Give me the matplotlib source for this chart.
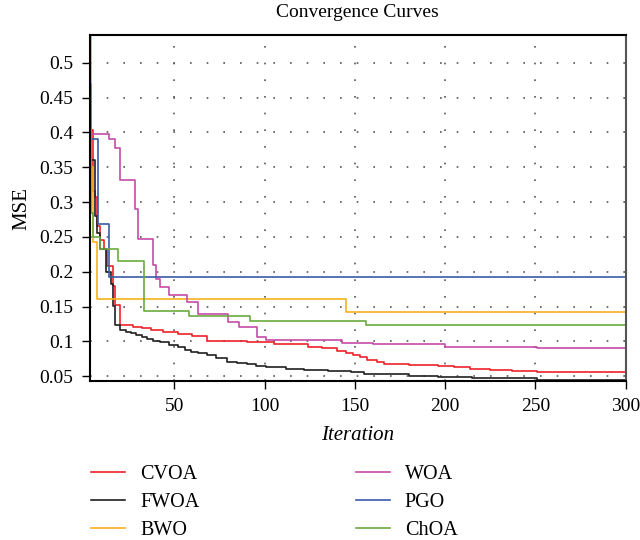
import matplotlib
matplotlib.use("Agg")
import matplotlib.pyplot as plt

plt.rcParams['font.family'] = ['Liberation Serif', 'DejaVu Serif']

# breakpoints of the step curves (iteration, MSE)
cvoa_it = [1, 4, 5, 6, 7, 9, 11, 13, 16, 17, 20, 27, 32, 37, 44, 52, 60, 68, 80, 90, 105, 124, 132, 140, 145, 149, 153,
           157, 162, 166, 180, 196, 205, 214, 225, 237, 251, 270, 300]
cvoa_v = [0.43, 0.404, 0.316, 0.307, 0.266, 0.245, 0.232, 0.208, 0.18, 0.152, 0.123, 0.121, 0.119, 0.117, 0.113, 0.111,
          0.108, 0.101, 0.100, 0.099, 0.097, 0.092, 0.090, 0.087, 0.083, 0.080, 0.077, 0.073, 0.070, 0.068, 0.066, 0.065,
          0.063, 0.061, 0.059, 0.058, 0.056, 0.0555, 0.055]

fwoa_it = [1, 4, 6, 7, 9, 12, 15, 16, 17, 20, 23, 26, 29, 32, 35, 38, 42, 47, 52, 56, 59, 63, 68, 73, 79, 85, 90, 95, 101,
           112, 122, 135, 148, 155, 163, 180, 196, 215, 233, 251, 275, 300]
fwoa_v = [0.45, 0.36, 0.28, 0.256, 0.232, 0.199, 0.182, 0.151, 0.123, 0.116, 0.113, 0.112, 0.109, 0.106, 0.104, 0.101,
          0.099, 0.095, 0.092, 0.088, 0.085, 0.083, 0.081, 0.076, 0.071, 0.069, 0.067, 0.065, 0.063, 0.061, 0.059, 0.057,
          0.056, 0.054, 0.053, 0.051, 0.049, 0.048, 0.047, 0.045, 0.044, 0.043]

bwo_it = [1, 4, 5, 7, 145, 300]
bwo_v = [0.60, 0.35, 0.242, 0.161, 0.142, 0.142]

woa_it = [1, 3, 4, 14, 17, 20, 22, 28, 30, 31, 38, 40, 42, 47, 57, 63, 80, 86, 96, 101, 143, 160, 200, 251, 300]
woa_v = [0.50, 0.47, 0.397, 0.391, 0.378, 0.331, 0.331, 0.29, 0.247, 0.247, 0.209, 0.19, 0.178, 0.166, 0.157, 0.140, 0.128,
         0.121, 0.107, 0.102, 0.098, 0.096, 0.092, 0.091, 0.091]

pgo_it = [1, 8, 14, 300]
pgo_v = [0.39, 0.268, 0.192, 0.192]

choa_it = [1, 3, 4, 5, 9, 19, 33, 58, 92, 156, 300]
choa_v = [0.50, 0.47, 0.285, 0.25, 0.232, 0.215, 0.143, 0.136, 0.130, 0.123, 0.123]

series = [
    ("CVOA", cvoa_it, cvoa_v, "#ee2229"),
    ("FWOA", fwoa_it, fwoa_v, "#231f20"),
    ("BWO", bwo_it, bwo_v, "#f6b21b"),
    ("WOA", woa_it, woa_v, "#c64ba8"),
    ("PGO", pgo_it, pgo_v, "#3b5ba9"),
    ("ChOA", choa_it, choa_v, "#69ab3e"),
]

fig = plt.figure(figsize=(6.4, 5.4), dpi=100)
ax = fig.add_axes([0.1406, 0.294, 0.837, 0.641])

lines = {}
for name, it, v, c in series:
    ln, = ax.plot(it, v, drawstyle="steps-post", color=c, lw=1.2, label=name)
    lines[name] = ln

ax.set_xlim(3.3, 300)
ax.set_ylim(0.0429, 0.5396)
ax.set_xticks([50, 100, 150, 200, 250, 300])
ax.set_yticks([0.05, 0.1, 0.15, 0.2, 0.25, 0.3, 0.35, 0.4, 0.45, 0.5])
ax.set_yticklabels(["0.05", "0.1", "0.15", "0.2", "0.25", "0.3", "0.35", "0.4", "0.45", "0.5"])
ax.tick_params(labelsize=14, direction="out", length=6, width=1)
ax.tick_params(axis="x", pad=6)
ax.tick_params(axis="y", pad=6)
ax.grid(True, color="#555555", linestyle=(0, (1, 9)), linewidth=1.2)
for s in ax.spines.values():
    s.set_linewidth(1.5)
ax.spines["right"].set_color("#555555")

ax.set_title("Convergence Curves", fontsize=14, pad=13)
ax.set_xlabel("Iteration", fontsize=15, style="italic", labelpad=8)
ax.set_ylabel("MSE", fontsize=15, labelpad=6)

order = ["CVOA", "FWOA", "BWO", "WOA", "PGO", "ChOA"]
fig.legend([lines[n] for n in order], order, ncol=2, frameon=False,
           loc="upper left", bbox_to_anchor=(0.12, 0.166), fontsize=14.5,
           handlelength=1.7, handletextpad=0.75, columnspacing=7.75, labelspacing=0.46,
           borderpad=0.2)

fig.savefig("out.png", dpi=100)
